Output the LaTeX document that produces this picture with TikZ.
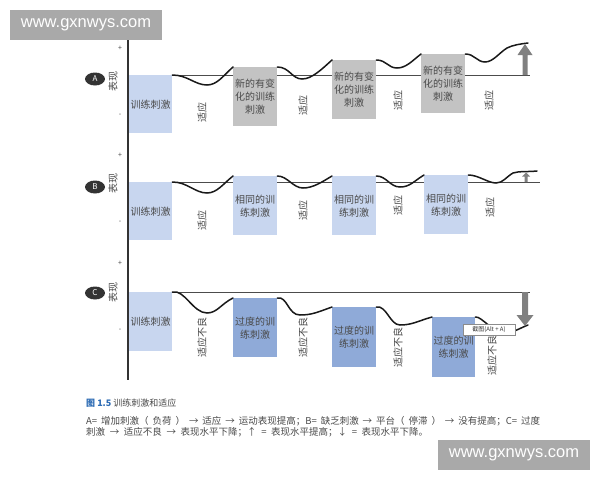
\documentclass[tikz,border=0pt]{standalone}
\usepackage{fontspec}
\setmainfont{Noto Sans CJK SC}
\newfontfamily\wmfont{Liberation Sans}
\usetikzlibrary{shapes.geometric}
\definecolor{lb}{HTML}{C8D6EF}
\definecolor{gb}{HTML}{C3C3C3}
\definecolor{db}{HTML}{8FAAD8}
\definecolor{txt}{HTML}{4A4A4A}
\definecolor{wm}{HTML}{A9A9A9}
\definecolor{arr}{HTML}{808080}
\definecolor{capblue}{HTML}{2F6DB5}
\begin{document}
\begin{tikzpicture}[x=1pt,y=-1pt,
  stim/.style={anchor=north west, inner sep=0pt, align=center, text=txt,
    font=\fontsize{10}{13}\selectfont, minimum width=44pt, minimum height=59pt},
  adapt/.style={rotate=90, text=txt, font=\fontsize{10}{11}\selectfont, inner sep=0pt},
  pm/.style={text=txt, font=\fontsize{7}{8}\selectfont, inner sep=0pt},
  perf/.style={rotate=90, text=txt, font=\fontsize{10}{11}\selectfont, inner sep=0pt},
  tag/.style={ellipse, fill=black!80, text=white, inner sep=0pt, minimum width=20pt,
    minimum height=13pt, font=\fontsize{8}{8}\selectfont},
  base/.style={draw=black!70, line width=0.8pt},
  wave/.style={draw=black!90, line width=1.5pt, line cap=round},
  wmark/.style={fill=wm, text=white, inner sep=0pt, minimum width=152pt, minimum height=30pt,
    font=\wmfont\fontsize{16.5}{18}\selectfont}
]
\fill[white] (0,0) rectangle (600,480);
\useasboundingbox (0,0) rectangle (600,480);

% axis
\draw[draw=black!80, line width=1.1pt] (128,38) -- (128,380);

% ---------- Panel A ----------
\node[pm] (pa) at (120,48) {+};
\node[pm] (ma) at (120,115) {-};
\node[tag] (ta) at (95,79) {A};
\node[perf] (ea) at (113,81) {表现};
\coordinate (aend) at (530,75);
\node[stim, fill=lb, minimum width=43pt, minimum height=58pt] (a1) at (129,75) {训练刺激};
\draw[base] (a1.north east) -- (aend);
\node[stim, fill=gb] (a2) at (233,67) {新的有变\\化的训练\\刺激};
\node[stim, fill=gb] (a3) at (332,60) {新的有变\\化的训练\\刺激};
\node[stim, fill=gb] (a4) at (421,54) {新的有变\\化的训练\\刺激};
\node[adapt] (la1) at (202,112) {适应};
\node[adapt] (la2) at (303,105) {适应};
\node[adapt] (la3) at (398,100) {适应};
\node[adapt] (la4) at (489,100) {适应};
\coordinate (awend) at (528,43);
\draw[wave] (a1.north east) .. controls +(15,0) and +(-12,0) .. (207,85)
  .. controls +(10,0) and +(-10,9) .. (a2.north west);
\draw[wave] (a2.north east) .. controls +(12,0) and +(-10,0) .. (302,79)
  .. controls +(10,0) and +(-10,9) .. (a3.north west);
\draw[wave] (a3.north east) .. controls +(10,0) and +(-9,0) .. (397,68)
  .. controls +(9,0) and +(-9,7) .. (a4.north west);
\draw[wave] (a4.north east) .. controls +(9,0) and +(-8,0) .. (485,62)
  .. controls +(8,0) and +(-8,5) .. (507,48) .. controls +(6,-3) and +(-8,1) .. (awend);
\fill[arr] (522.5,75) -- (522.5,55) -- (517.5,55) -- (525,44) -- (532.5,55) -- (527.5,55) -- (527.5,75) -- cycle;

% ---------- Panel B ----------
\node[pm] (pb) at (120,155) {+};
\node[pm] (mb) at (120,222) {-};
\node[tag] (tb) at (95,187) {B};
\node[perf] (eb) at (113,183) {表现};
\coordinate (bend) at (540,182);
\node[stim, fill=lb, minimum width=43pt, minimum height=58pt] (b1) at (129,182) {训练刺激};
\draw[base] (b1.north east) -- (bend);
\node[stim, fill=lb] (b2) at (233,176) {相同的训\\练刺激};
\node[stim, fill=lb] (b3) at (332,176) {相同的训\\练刺激};
\node[stim, fill=lb] (b4) at (424,175) {相同的训\\练刺激};
\node[adapt] (lb1) at (202,220) {适应};
\node[adapt] (lb2) at (303,210) {适应};
\node[adapt] (lb3) at (398,205) {适应};
\node[adapt] (lb4) at (490,207) {适应};
\coordinate (bwend) at (537,171);
\draw[wave] (b1.north east) .. controls +(15,0) and +(-12,0) .. (207,193)
  .. controls +(10,0) and +(-10,8) .. (b2.north west);
\draw[wave] (b2.north east) .. controls +(10,0) and +(-10,0) .. (303,188)
  .. controls +(10,0) and +(-10,6) .. (b3.north west);
\draw[wave] (b3.north east) .. controls +(10,0) and +(-10,0) .. (400,187)
  .. controls +(10,0) and +(-10,6) .. (b4.north west);
\draw[wave] (b4.north east) .. controls +(10,0) and +(-8,0) .. (496,183)
  .. controls +(7,0) and +(-7,4) .. (513,173) .. controls +(6,-2) and +(-10,1) .. (bwend);
\fill[arr] (524.5,182) -- (524.5,176.5) -- (522,176.5) -- (526,172.5) -- (530,176.5) -- (527.5,176.5) -- (527.5,182) -- cycle;

% ---------- Panel C ----------
\node[pm] (pc) at (120,263) {+};
\node[pm] (mc) at (120,330) {-};
\node[tag] (tc) at (95,293) {C};
\node[perf] (ec) at (113,292) {表现};
\coordinate (cend) at (530,292);
\node[stim, fill=lb, minimum width=43pt, minimum height=59pt] (c1) at (129,292) {训练刺激};
\draw[base] (c1.north east) -- (cend);
\node[stim, fill=db] (c2) at (233,298) {过度的训\\练刺激};
\node[stim, fill=db, minimum height=60pt] (c3) at (332,307) {过度的训\\练刺激};
\node[stim, fill=db, minimum width=43pt, minimum height=60pt] (c4) at (432,317) {过度的训\\练刺激};
\node[adapt] (lc1) at (202,337) {适应不良};
\node[adapt] (lc2) at (303,337) {适应不良};
\node[adapt] (lc3) at (398,347) {适应不良};
\node[adapt] (lc4) at (492,355) {适应不良};
\coordinate (cwend) at (528,325);
\draw[wave] (c1.north east) .. controls +(12,-3) and +(-14,0) .. (207,313)
  .. controls +(10,0) and +(-12,6) .. (c2.north west);
\draw[wave] (c2.north east) .. controls +(10,-2) and +(-12,0) .. (300,315)
  .. controls +(12,0) and +(-14,5) .. (c3.north west);
\draw[wave] (c3.north east) .. controls +(10,-2) and +(-10,0) .. (400,325)
  .. controls +(12,0) and +(-14,4) .. (c4.north west);
\draw[wave] (c4.north east) .. controls +(6,-1) and +(-12,0) .. (505,333)
  .. controls +(8,0) and +(-8,3) .. (cwend);
\fill[arr] (522,292) -- (522,315) -- (516.5,315) -- (525,326) -- (533.5,315) -- (528,315) -- (528,292) -- cycle;
\node[draw=black!45, fill=white, inner sep=0pt, minimum width=52pt, minimum height=11pt,
  font=\fontsize{6}{7}\selectfont, text=black!80] (tip) at (489,330) {截图(Alt + A)};

% ---------- Caption ----------
\node[anchor=base west, inner sep=0pt, text=txt, font=\fontsize{9}{11}\selectfont] (cap0) at (86,406)
  {{\color{capblue}\bfseries 图 1.5} 训练刺激和适应};
\node[anchor=base west, inner sep=0pt, text=txt, font=\fontsize{9.5}{11}\selectfont] (cap1) at (86,424.5)
  {\makebox[454pt][s]{A= 增加刺激（ 负荷 ） → 适应 → 运动表现提高；B= 缺乏刺激 → 平台（ 停滞 ） → 没有提高；C= 过度}};
\node[anchor=base west, inner sep=0pt, text=txt, font=\fontsize{9.5}{11}\selectfont] (cap2) at (86,435)
  {\makebox[342pt][s]{刺激 → 适应不良 → 表现水平下降；↑ = 表现水平提高；↓ = 表现水平下降。}};

% ---------- Watermarks ----------
\node[wmark] (wm1) at (86,25) {www.gxnwys.com};
\node[wmark] (wm2) at (514,455) {www.gxnwys.com};
\end{tikzpicture}
\end{document}
